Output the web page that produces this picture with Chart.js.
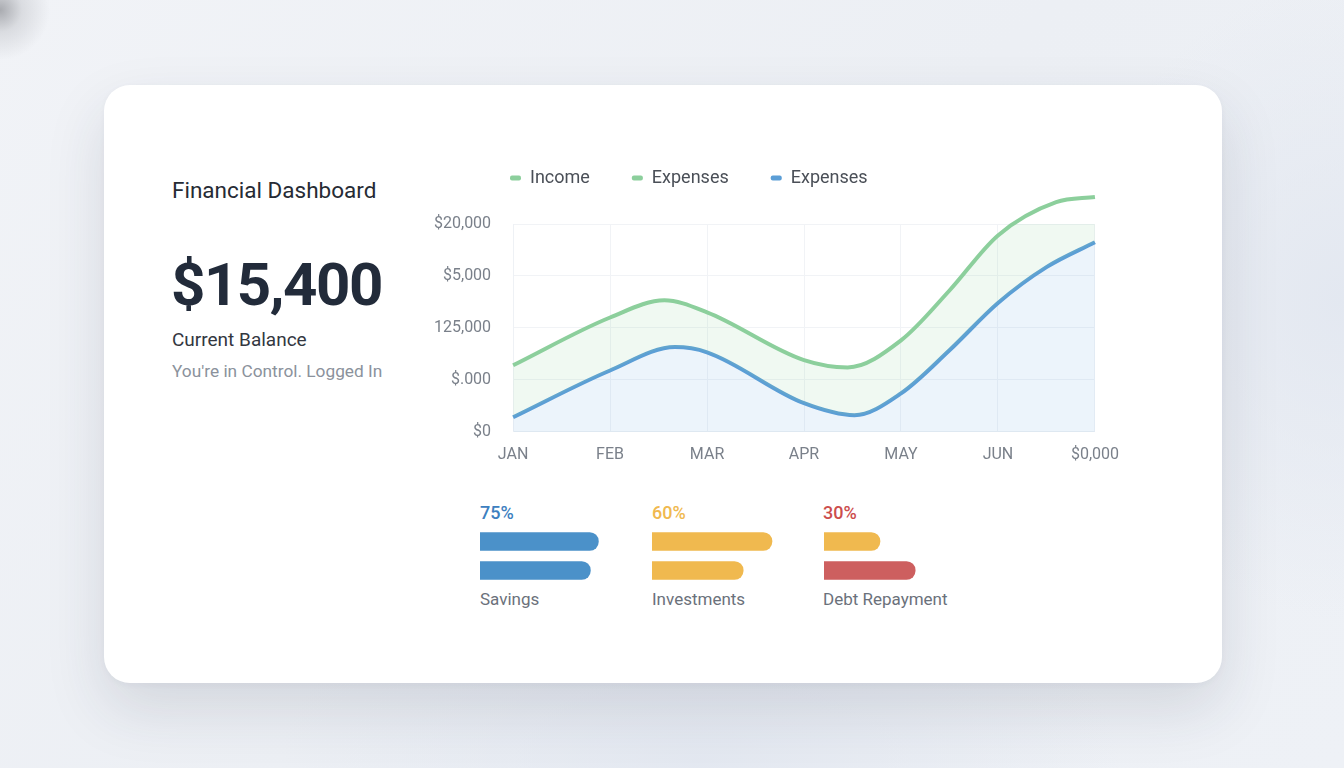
<!DOCTYPE html>
<html>
<head>
<meta charset="utf-8">
<script src="https://cdn.jsdelivr.net/npm/chart.js@4.4.1/dist/chart.umd.min.js"></script>
<style>
    html, body {
        margin: 0;
        padding: 0;
        width: 1344px;
        height: 768px;
        overflow: hidden;
        font-family: Roboto, "Noto Sans", sans-serif;
    }
    body {
        position: relative;
        background:
            radial-gradient(circle at 0px 10px, rgba(110, 112, 118, 0.55) 0, rgba(150, 152, 158, 0.25) 22px, rgba(238, 241, 246, 0) 50px),
            radial-gradient(ellipse 260px 320px at 1340px 300px, rgba(226, 231, 240, 0.9), rgba(238, 241, 246, 0) 100%),
            radial-gradient(ellipse 420px 200px at 700px 760px, rgba(226, 231, 240, 0.9), rgba(238, 241, 246, 0) 100%),
            linear-gradient(135deg, #f1f3f7 0%, #eceff4 50%, #eef1f6 100%);
    }
    .card {
        position: absolute;
        left: 104px;
        top: 85px;
        width: 1118px;
        height: 598px;
        background: #ffffff;
        border-radius: 26px;
        box-shadow: 0 26px 60px rgba(40, 50, 70, 0.13), 0 2px 6px rgba(40, 50, 70, 0.04);
    }
    .txt {
        position: absolute;
        white-space: nowrap;
    }
    .chart-box {
        position: absolute;
    }
</style>
</head>
<body>
<div class="card"></div>

<div class="txt" style="left:172px; top:179px; font-size:22.5px; line-height:22px; color:#262b34;">Financial Dashboard</div>
<div class="txt" style="left:171px; top:255px; font-size:60px; line-height:60px; font-weight:700; letter-spacing:-1.5px; color:#222b3a;">$15,400</div>
<div class="txt" style="left:172px; top:330px; font-size:19px; line-height:19px; color:#33373f;">Current Balance</div>
<div class="txt" style="left:172px; top:363px; font-size:17.3px; line-height:17px; color:#8b929c;">You're in Control. Logged In</div>

<div class="chart-box" style="left:412px; top:154px; width:721px; height:325px;">
    <canvas id="trendChart"></canvas>
</div>

<div class="txt" style="left:480px; top:504px; font-size:18px; line-height:18px; font-weight:500; color:#3d80c0;">75%</div>
<div class="txt" style="left:652px; top:504px; font-size:18px; line-height:18px; font-weight:500; color:#f0b94f;">60%</div>
<div class="txt" style="left:823px; top:504px; font-size:18px; line-height:18px; font-weight:500; color:#cc4d4d;">30%</div>

<div class="chart-box" style="left:480px; top:527px; width:160px; height:58px;"><canvas id="savingsBars"></canvas></div>
<div class="chart-box" style="left:652px; top:527px; width:160px; height:58px;"><canvas id="investBars"></canvas></div>
<div class="chart-box" style="left:824px; top:527px; width:160px; height:58px;"><canvas id="debtBars"></canvas></div>

<div class="txt" style="left:480px; top:591px; font-size:17px; line-height:17px; color:#6b717b;">Savings</div>
<div class="txt" style="left:652px; top:591px; font-size:17px; line-height:17px; color:#6b717b;">Investments</div>
<div class="txt" style="left:823px; top:591px; font-size:17px; line-height:17px; color:#6b717b;">Debt Repayment</div>

<script>
// x-axis labels (one per month slot) and y-axis labels (one per 5000 step)
const monthLabels = ['JAN', 'FEB', 'MAR', 'APR', 'MAY', 'JUN', '$0,000'];
const yTickLabels = ['$0', '$.000', '125,000', '$5,000', '$20,000'];

// readings: position in month slots + value
const incomeAt = [0, 1, 1.56, 2, 3, 3.45, 4, 4.5, 5, 5.6, 6];
const incomeValues = [6400, 11000, 12650, 11500, 6900, 6200, 8800, 13600, 18900, 22100, 22600];

const expenseAt = [0, 1, 1.67, 2, 3, 3.52, 4, 4.5, 5, 5.5, 6];
const expenseValues = [1400, 5900, 8150, 7650, 2750, 1600, 3700, 7850, 12400, 15850, 18250];

const legendNames = ['Income', 'Expenses', 'Expenses'];

// progress bars (two rows per group, share of a 0-100 track)
const barRows = ['Goal', 'Progress'];
const savingsValues = [74, 69];
const investValues = [75, 57];
const debtValues = [35, 57];

const GREEN = '#8ccf9c';
const BLUE = '#5b9ed6';
const BAR_BLUE = '#4b91c9';
const BAR_YELLOW = '#f0b94f';
const BAR_RED = '#cd5f5f';

function toPoints(xs, ys) {
    return xs.map((x, i) => ({ x: x, y: ys[i] }));
}

// puts the legend where the design has it (left of the plot, above the top line)
const legendSpot = { x: 98, y: 24 };
const legendPlacer = {
    id: 'legendPlacer',
    afterLayout(chart) {
        const lg = chart.legend;
        const pad = lg.options.labels.padding;
        const dx = legendSpot.x - pad - lg.left;
        const dy = legendSpot.y - 9 - pad - lg.top;
        lg.left += dx; lg.right += dx;
        lg.top += dy; lg.bottom += dy;
    }
};

new Chart(document.getElementById('trendChart'), {
    type: 'line',
    data: {
        datasets: [
            {
                label: legendNames[0],
                data: toPoints(incomeAt, incomeValues),
                borderColor: GREEN,
                backgroundColor: 'rgba(140, 207, 156, 0.13)',
                fill: 2,
                borderWidth: 4,
                pointRadius: 0,
                cubicInterpolationMode: 'monotone',
                clip: false
            },
            {
                label: legendNames[1],
                data: [],
                borderColor: GREEN,
                backgroundColor: GREEN,
                pointRadius: 0
            },
            {
                label: legendNames[2],
                data: toPoints(expenseAt, expenseValues),
                borderColor: BLUE,
                backgroundColor: 'rgba(110, 170, 225, 0.13)',
                fill: 'origin',
                borderWidth: 4,
                pointRadius: 0,
                cubicInterpolationMode: 'monotone',
                clip: false
            }
        ]
    },
    options: {
        responsive: true,
        maintainAspectRatio: false,
        animation: false,
        layout: { padding: { right: 24 } },
        plugins: {
            tooltip: { enabled: false },
            legend: {
                position: 'top',
                align: 'start',
                labels: {
                    padding: 42,
                    boxWidth: 11,
                    boxHeight: 5,
                    useBorderRadius: true,
                    borderRadius: 2,
                    color: '#4a4f57',
                    font: { family: 'Roboto', size: 18 },
                    generateLabels(chart) {
                        const items = Chart.defaults.plugins.legend.labels.generateLabels(chart);
                        items.forEach(item => {
                            item.fillStyle = item.strokeStyle;
                            item.lineWidth = 0;
                        });
                        return items;
                    }
                }
            }
        },
        scales: {
            x: {
                type: 'linear',
                min: 0,
                max: 6,
                grid: { color: '#f1f3f6', drawTicks: false },
                border: { color: '#e6ecf3' },
                ticks: {
                    stepSize: 1,
                    padding: 14,
                    maxRotation: 0,
                    autoSkip: false,
                    color: '#7a808a',
                    font: { family: 'Roboto', size: 16 },
                    callback: (value) => monthLabels[value]
                }
            },
            y: {
                min: 0,
                max: 20000,
                grid: { color: '#f1f3f6', drawTicks: false },
                border: { color: '#eef1f5' },
                ticks: {
                    stepSize: 5000,
                    padding: 22,
                    color: '#7a808a',
                    font: { family: 'Roboto', size: 16 },
                    callback: (value) => yTickLabels[value / 5000]
                }
            }
        }
    },
    plugins: [legendPlacer]
});

function progressBars(canvasId, values, colors) {
    new Chart(document.getElementById(canvasId), {
        type: 'bar',
        data: {
            labels: barRows,
            datasets: [{
                data: values,
                backgroundColor: colors,
                borderRadius: 9,
                borderSkipped: 'start',
                barThickness: 18
            }]
        },
        options: {
            indexAxis: 'y',
            responsive: true,
            maintainAspectRatio: false,
            animation: false,
            layout: { padding: 0 },
            plugins: { legend: { display: false }, tooltip: { enabled: false } },
            scales: {
                x: { display: false, min: 0, max: 100 },
                y: { display: false }
            }
        }
    });
}

progressBars('savingsBars', savingsValues, [BAR_BLUE, BAR_BLUE]);
progressBars('investBars', investValues, [BAR_YELLOW, BAR_YELLOW]);
progressBars('debtBars', debtValues, [BAR_YELLOW, BAR_RED]);
</script>
</body>
</html>
